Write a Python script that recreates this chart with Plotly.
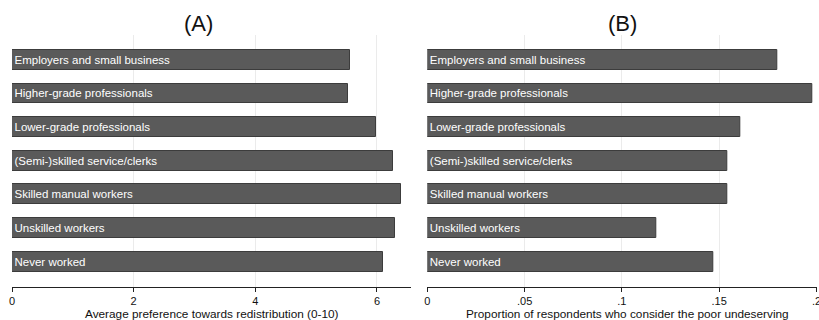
import plotly.graph_objects as go

# Occupational classes, top to bottom
classes = [
    "Employers and small business",
    "Higher-grade professionals",
    "Lower-grade professionals",
    "(Semi-)skilled service/clerks",
    "Skilled manual workers",
    "Unskilled workers",
    "Never worked",
]

# Panel A: average preference towards redistribution (0-10)
redistribution = [5.56, 5.52, 5.99, 6.27, 6.39, 6.29, 6.10]

# Panel B: proportion considering the poor undeserving
undeserving = [0.180, 0.198, 0.161, 0.154, 0.154, 0.1175, 0.147]

ticks_a = [0, 2, 4, 6]
ticklabels_a = ["0", "2", "4", "6"]
ticks_b = [0, 0.05, 0.1, 0.15, 0.2]
ticklabels_b = ["0", ".05", ".1", ".15", ".2"]

title_a = "Average preference towards redistribution (0-10)"
title_b = "Proportion of respondents who consider the poor undeserving"

W, H = 819, 320
FONT = "Liberation Sans, Arial, sans-serif"
BAR_FILL = "#5a5a5a"
BAR_EDGE = "#3c3c3c"
GRID = "#ebebeb"

fig = go.Figure()

for vals, xa in ((redistribution, "x"), (undeserving, "x2")):
    fig.add_trace(go.Bar(
        x=vals, y=classes, orientation="h", xaxis=xa, yaxis="y",
        width=0.59,
        marker=dict(color=BAR_FILL, line=dict(color=BAR_EDGE, width=1)),
        text=classes, textposition="inside", insidetextanchor="start",
        textangle=0, constraintext="none",
        textfont=dict(family=FONT, size=11.5, color="white"),
        hoverinfo="skip", showlegend=False,
    ))

y_bot = 1 - 286.5 / H
y_top = 1 - 35 / H

common_x = dict(
    showline=True, linecolor="#222", linewidth=1,
    ticks="outside", ticklen=4, tickcolor="#222", tickwidth=1,
    showgrid=True, gridcolor=GRID, gridwidth=1, zeroline=False,
    tickfont=dict(family=FONT, size=11, color="#111"),
    ticklabeloverflow="allow", automargin=False,
    anchor="y", fixedrange=True,
)


def label(text, x, y, size):
    return dict(text=text, x=x / W, y=1 - y / H, xref="paper", yref="paper",
                xanchor="center", yanchor="middle", showarrow=False,
                font=dict(family=FONT, size=size, color="#111"))


fig.update_layout(
    width=W, height=H,
    margin=dict(l=0, r=0, t=0, b=0, autoexpand=False),
    paper_bgcolor="white", plot_bgcolor="white",
    font=dict(family=FONT, size=12, color="#111"),
    bargap=0,
    xaxis=dict(domain=[12 / W, 411 / W], range=[0, 6.56],
               tickvals=ticks_a, ticktext=ticklabels_a, **common_x),
    xaxis2=dict(domain=[427.3 / W, 816.7 / W], range=[0, 0.2001],
                tickvals=ticks_b, ticktext=ticklabels_b, **common_x),
    yaxis=dict(domain=[y_bot, y_top], range=[6.74, -0.74],
               showticklabels=False, showgrid=False, showline=False,
               zeroline=False, ticks="", fixedrange=True, automargin=False),
    annotations=[
        label("(A)", 198, 24, 22),
        label("(B)", 622, 24, 22),
        label(title_a, 211.5, 313.5, 11.8),
        label(title_b, 627, 313.5, 11.8),
    ],
)

fig.write_html("out.html")
